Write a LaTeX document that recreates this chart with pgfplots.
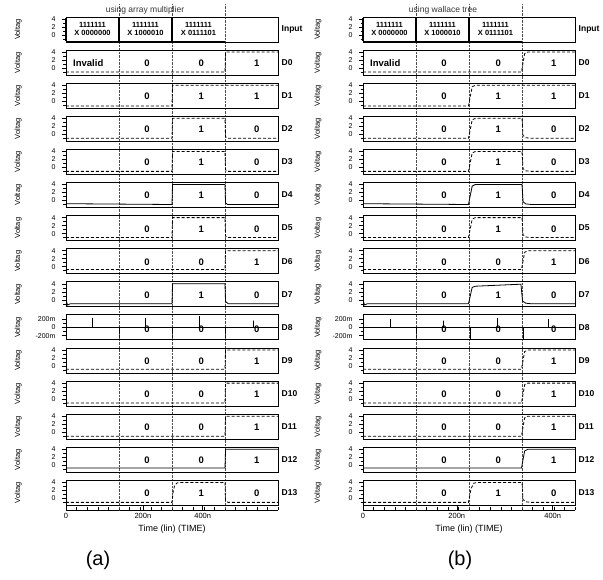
\documentclass[border=0pt]{standalone}
\usepackage{pgfplots}
\pgfplotsset{compat=1.18}
\usepackage{fontspec}
\setmainfont{Liberation Sans}

\newcommand\tickf{\fontsize{7}{7.5}\selectfont}
\newcommand\btickf{\fontsize{7.5}{8}\selectfont}
\newcommand\labf{\fontsize{7.5}{8}\selectfont}
\newcommand\xlabf{\fontsize{9}{10}\selectfont}
\newcommand\valf{\fontsize{9.5}{11}\selectfont\bfseries}
\newcommand\rowf{\fontsize{8.5}{9}\selectfont\bfseries}
\newcommand\inpf{\fontsize{7.5}{8.3}\selectfont\bfseries}
\newcommand\titf{\fontsize{8.5}{9}\selectfont}

\pgfplotsset{
  panel/.style={anchor=south west, width=212pt, height=25pt, scale only axis,
    xmin=0, xmax=400, ymin=-1.75, ymax=4.5, xtick=\empty,
    ytick={0,2,4}, minor ytick={-1,1,3}, ytick pos=left, tick align=outside,
    major tick length=4pt, minor tick length=2.5pt,
    tick style={black, line width=0.5pt},
    yticklabel style={font=\tickf, xshift=-3pt},
    /pgf/number format/assume math mode=true,
    axis line style={line width=0.8pt}, clip=false,
    ylabel={Voltag}, ylabel style={font=\labf, anchor=center}},
  panelL/.style={panel, ylabel style={at={(axis description cs:-0.226,0.5)}}},
  panelR/.style={panel, ylabel style={at={(axis description cs:-0.212,0.5)}}},
  sig/.style={black, line width=0.8pt, mark=none},
  dsig/.style={sig, densely dashed},
  bus/.style={black, line width=1.5pt, mark=none},
  d8/.style={ymin=-300, ymax=300, ytick={-200,0,200}, yticklabels={-200m,0,200m}, minor ytick={-100,100}},
  colaxis/.style={anchor=south west, width=212pt, height=506pt, scale only axis,
    xmin=0, xmax=400, ymin=0, ymax=1, axis x line=bottom, axis y line=none,
    axis line style={-, line width=0.6pt}, tick align=inside,
    major tick length=4pt, minor tick length=2.5pt, tick style={black, line width=0.5pt},
    minor xtick={0,20,...,400},
    extra x ticks={100,200,300}, extra x tick labels={},
    extra x tick style={grid=major, major tick length=0pt},
    major grid style={black!70, densely dotted, line width=0.6pt},
    xticklabel style={font=\btickf},
    /pgf/number format/assume math mode=true,
    xlabel={Time (lin) (TIME)}, xlabel style={font=\xlabf, yshift=1pt}},
}
\tikzset{
  val/.style={font=\valf, inner sep=0pt},
  inp/.style={font=\inpf, inner sep=0pt, align=center},
  rowlab/.style={font=\rowf, inner sep=0pt, anchor=west},
}
\newcommand\vals[5]{%
  \node[val] at (axis cs:42,#1) {#2};
  \node[val] at (axis cs:153,#1) {#3};
  \node[val] at (axis cs:255,#1) {#4};
  \node[val] at (axis cs:360,#1) {#5};}
\newcommand\rl[1]{\node[rowlab] at (rel axis cs:1,0.5) [xshift=3.5pt] {#1};}

\begin{document}
\begin{tikzpicture}
\useasboundingbox (0pt,0pt) rectangle (603pt,579pt);

% ---------------- column (a) background: time axis + grid
\begin{axis}[colaxis, at={(66pt,69pt)}, xtick={0,145,258}, xticklabels={0,200n,400n}]
\addplot[draw=none] coordinates {(0,0)};
\end{axis}
% ---------------- column (b) background
\begin{axis}[colaxis, at={(363pt,69pt)}, xtick={0,177,358}, xticklabels={0,200n,400n}]
\addplot[draw=none] coordinates {(0,0)};
\end{axis}

% ================= LEFT COLUMN =================
\begin{axis}[panelL, at={(66pt,537pt)}]
\addplot[bus] coordinates {(0,4.35)(400,4.35)};
\addplot[bus] coordinates {(0,-1.6)(300,-1.6)};
\addplot[bus] coordinates {(0,-1.6)(0,4.35)};
\addplot[bus] coordinates {(100,-1.6)(100,4.35)};
\addplot[bus] coordinates {(200,-1.6)(200,4.35)};
\node[inp] at (axis cs:50,1.5) {1111111\\X 0000000};
\node[inp] at (axis cs:150,1.5) {1111111\\X 1000010};
\node[inp] at (axis cs:250,1.5) {1111111\\X 0111101};
\rl{Input}
\end{axis}

\begin{axis}[panelL, at={(66pt,503.9pt)}]
\addplot[dsig] coordinates {(0,-1)(300,-1)(301,4)(400,4)};
\vals{1.2}{Invalid}{0}{0}{1}\rl{D0}
\end{axis}

\begin{axis}[panelL, at={(66pt,470.8pt)}]
\addplot[dsig] coordinates {(0,-1.2)(200,-1.2)(201,4)(400,4)};
\vals{1.2}{}{0}{1}{1}\rl{D1}
\end{axis}

\begin{axis}[panelL, at={(66pt,437.7pt)}]
\addplot[dsig] coordinates {(0,-1)(200,-1)(201,4)(300,4)(301,-0.6)(305,-1)(400,-1)};
\vals{1.2}{}{0}{1}{0}\rl{D2}
\end{axis}

\begin{axis}[panelL, at={(66pt,404.6pt)}]
\addplot[dsig] coordinates {(0,-1)(200,-1)(201,4)(300,4)(301,-0.6)(305,-1)(400,-1)};
\vals{1.2}{}{0}{1}{0}\rl{D3}
\end{axis}

\begin{axis}[panelL, at={(66pt,371.5pt)}]
\addplot[sig] coordinates {(0,-0.8)(200,-1)(201,4)(300,4)(301,-0.6)(305,-1)(400,-1)};
\vals{1.2}{}{0}{1}{0}\rl{D4}
\end{axis}

\begin{axis}[panelL, at={(66pt,338.4pt)}]
\addplot[dsig] coordinates {(0,-1)(200,-1)(201,4)(300,4)(301,-0.6)(305,-1)(400,-1)};
\vals{1.2}{}{0}{1}{0}\rl{D5}
\end{axis}

\begin{axis}[panelL, at={(66pt,305.3pt)}]
\addplot[dsig] coordinates {(0,-0.7)(300,-0.7)(301,4)(400,4)};
\vals{1.2}{}{0}{0}{1}\rl{D6}
\end{axis}

\begin{axis}[panelL, at={(66pt,272.2pt)}]
\addplot[sig] coordinates {(0,0)(3,-1.3)(8,-1)(200,-1)(201,4)(300,4)(301,-0.4)(306,-1)(400,-1)};
\vals{1.2}{}{0}{1}{0}\rl{D7}
\end{axis}

\begin{axis}[panelL, d8, at={(66pt,239.1pt)}]
\addplot[sig, line width=0.7pt] coordinates {(0,-120)(0,0)(49,0)(49,230)(49,0)(100,0)(100,-280)(100,0)(150,0)(150,230)(150,0)(200,0)(200,-280)(200,0)(252,0)(252,270)(252,0)(300,0)(300,-280)(300,0)(353,0)(353,160)(353,0)(400,0)};
\vals{-40}{}{0}{0}{0}\rl{D8}
\end{axis}

\begin{axis}[panelL, at={(66pt,206.0pt)}]
\addplot[dsig] coordinates {(0,-0.8)(300,-0.8)(301,4)(400,4)};
\vals{1.2}{}{0}{0}{1}\rl{D9}
\end{axis}

\begin{axis}[panelL, at={(66pt,172.9pt)}]
\addplot[dsig] coordinates {(0,-1)(300,-1)(301,4)(400,4)};
\vals{1.2}{}{0}{0}{1}\rl{D10}
\end{axis}

\begin{axis}[panelL, at={(66pt,139.8pt)}]
\addplot[dsig] coordinates {(0,-1)(300,-1)(301,4)(400,4)};
\vals{1.2}{}{0}{0}{1}\rl{D11}
\end{axis}

\begin{axis}[panelL, at={(66pt,106.7pt)}]
\addplot[sig] coordinates {(0,-0.7)(300,-0.7)(301,4)(400,4)};
\vals{1.2}{}{0}{0}{1}\rl{D12}
\end{axis}

\begin{axis}[panelL, at={(66pt,73.6pt)}]
\addplot[dsig] coordinates {(0,-1)(200,-1)(202,1.5)(205,3.3)(210,3.9)(218,4)(300,4)(301,-0.6)(306,-1)(400,-1)};
\vals{1.2}{}{0}{1}{0}\rl{D13}
\end{axis}

% ================= RIGHT COLUMN =================
\begin{axis}[panelR, at={(363pt,537pt)}]
\addplot[bus] coordinates {(0,4.35)(400,4.35)};
\addplot[bus] coordinates {(0,-1.6)(300,-1.6)};
\addplot[bus] coordinates {(0,-1.6)(0,4.35)};
\addplot[bus] coordinates {(100,-1.6)(100,4.35)};
\addplot[bus] coordinates {(200,-1.6)(200,4.35)};
\node[inp] at (axis cs:50,1.5) {1111111\\X 0000000};
\node[inp] at (axis cs:150,1.5) {1111111\\X 1000010};
\node[inp] at (axis cs:250,1.5) {1111111\\X 0111101};
\rl{Input}
\end{axis}

\begin{axis}[panelR, at={(363pt,503.9pt)}]
\addplot[dsig] coordinates {(0,-1)(299,-1)(305,3.6)(311,4)(400,4)};
\vals{1.2}{Invalid}{0}{0}{1}\rl{D0}
\end{axis}

\begin{axis}[panelR, at={(363pt,470.8pt)}]
\addplot[dsig] coordinates {(0,-1.2)(199,-1.2)(206,3.6)(212,4)(400,4)};
\vals{1.2}{}{0}{1}{1}\rl{D1}
\end{axis}

\begin{axis}[panelR, at={(363pt,437.7pt)}]
\addplot[dsig] coordinates {(0,-1)(199,-1)(206,3.6)(212,4)(300,4)(302,-0.3)(307,-0.85)(318,-1)(400,-1)};
\vals{1.2}{}{0}{1}{0}\rl{D2}
\end{axis}

\begin{axis}[panelR, at={(363pt,404.6pt)}]
\addplot[dsig] coordinates {(0,-1)(199,-1)(206,3.6)(212,4)(300,4)(302,-0.3)(307,-0.85)(318,-1)(400,-1)};
\vals{1.2}{}{0}{1}{0}\rl{D3}
\end{axis}

\begin{axis}[panelR, at={(363pt,371.5pt)}]
\addplot[sig] coordinates {(0,-0.8)(199,-1)(206,3.6)(212,4)(300,4)(302,-0.3)(307,-0.85)(318,-1)(400,-1)};
\vals{1.2}{}{0}{1}{0}\rl{D4}
\end{axis}

\begin{axis}[panelR, at={(363pt,338.4pt)}]
\addplot[dsig] coordinates {(0,-1)(199,-1)(206,3.6)(212,4)(300,4)(302,-0.3)(307,-0.85)(318,-1)(400,-1)};
\vals{1.2}{}{0}{1}{0}\rl{D5}
\end{axis}

\begin{axis}[panelR, at={(363pt,305.3pt)}]
\addplot[dsig] coordinates {(0,-0.7)(299,-0.7)(305,3.6)(311,4)(400,4)};
\vals{1.2}{}{0}{0}{1}\rl{D6}
\end{axis}

\begin{axis}[panelR, at={(363pt,272.2pt)}]
\addplot[sig] coordinates {(0,0)(3,-1.3)(8,-1)(199,-1)(206,3.1)(212,3.4)(298,3.9)(301,-0.3)(307,-0.85)(318,-1)(400,-1)};
\vals{1.2}{}{0}{1}{0}\rl{D7}
\end{axis}

\begin{axis}[panelR, d8, at={(363pt,239.1pt)}]
\addplot[sig, line width=0.7pt] coordinates {(0,-120)(0,0)(51,0)(51,200)(51,0)(100,0)(100,-280)(100,0)(151,0)(151,160)(151,0)(202,0)(202,-280)(202,0)(253,0)(253,230)(253,0)(302,0)(302,-280)(302,0)(349,0)(349,200)(349,0)(400,0)};
\vals{-40}{}{0}{0}{0}\rl{D8}
\end{axis}

\begin{axis}[panelR, at={(363pt,206.0pt)}]
\addplot[dsig] coordinates {(0,-0.8)(299,-0.8)(305,3.6)(311,4)(400,4)};
\vals{1.2}{}{0}{0}{1}\rl{D9}
\end{axis}

\begin{axis}[panelR, at={(363pt,172.9pt)}]
\addplot[dsig] coordinates {(0,-1)(299,-1)(305,3.6)(311,4)(400,4)};
\vals{1.2}{}{0}{0}{1}\rl{D10}
\end{axis}

\begin{axis}[panelR, at={(363pt,139.8pt)}]
\addplot[dsig] coordinates {(0,-1)(299,-1)(305,3.6)(311,4)(400,4)};
\vals{1.2}{}{0}{0}{1}\rl{D11}
\end{axis}

\begin{axis}[panelR, at={(363pt,106.7pt)}]
\addplot[sig] coordinates {(0,-0.7)(299,-0.7)(305,3.6)(311,4)(400,4)};
\vals{1.2}{}{0}{0}{1}\rl{D12}
\end{axis}

\begin{axis}[panelR, at={(363pt,73.6pt)}]
\addplot[dsig] coordinates {(0,-1)(199,-1)(204,2.5)(209,3.8)(216,4)(300,4)(302,-0.3)(307,-0.85)(318,-1)(400,-1)};
\vals{1.2}{}{0}{1}{0}\rl{D13}
\end{axis}

% titles and captions
\node[font=\titf, text=black!80] at (145pt,569pt) {using array multiplier};
\node[font=\titf, text=black!80] at (443pt,569pt) {using wallace tree};
\node[font=\fontsize{20}{22}\selectfont] at (98pt,19pt) {(a)};
\node[font=\fontsize{20}{22}\selectfont] at (460pt,19pt) {(b)};
\end{tikzpicture}
\end{document}
